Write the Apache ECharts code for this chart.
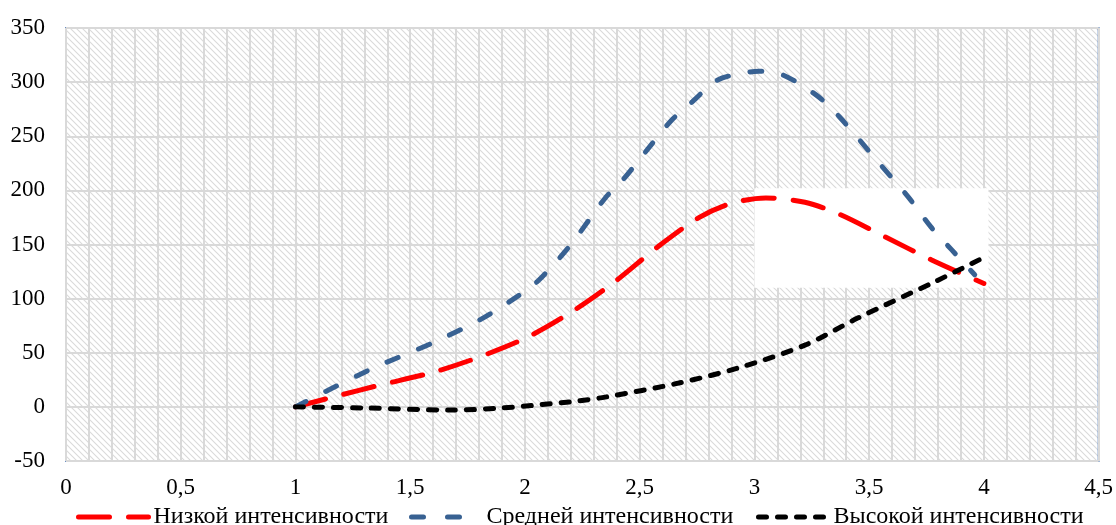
<!DOCTYPE html>
<html>
<head>
<meta charset="utf-8">
<script src="https://cdn.jsdelivr.net/npm/echarts@6/dist/echarts.min.js"></script>
<style>
  html, body { margin: 0; padding: 0; background: #fff; }
  #chart { width: 1116px; height: 525px; }
</style>
</head>
<body>
<div id="chart"></div>
<script>
// Series names
const seriesNames = ['Низкой интенсивности', 'Средней интенсивности', 'Высокой интенсивности'];

// Sample points [x, y] for each curve
const lowValues = [
  [1, 0], [1.18, 10], [1.365, 20], [1.6, 32], [1.8, 46], [2.017, 65], [2.22, 90],
  [2.4, 117], [2.58, 148], [2.76, 175], [2.9, 188], [3.05, 193], [3.22, 189],
  [3.37, 178], [3.57, 157], [3.77, 136], [4, 114]
];
const midValues = [
  [1, 0], [1.32, 34], [1.596, 59], [1.8, 80], [1.974, 103], [2.06, 117], [2.2, 150],
  [2.35, 193], [2.42, 208], [2.55, 242], [2.64, 265], [2.73, 282], [2.84, 302],
  [2.97, 309], [3.02, 310], [3.12, 307], [3.27, 288], [3.37, 268], [3.54, 226],
  [3.67, 194], [3.77, 166], [3.86, 145], [3.96, 122]
];
const highValues = [
  [1, 0], [1.3, -1], [1.68, -3], [1.9, -1], [2.07, 2], [2.21, 5], [2.35, 9],
  [2.67, 22], [2.93, 36], [3.22, 57], [3.45, 82], [3.79, 116], [4, 138]
];

// Axis ranges
const xRange = [0, 4.5, 0.5];
const yRange = [-50, 350, 50];

// Line colours and dash patterns (plot lines, legend swatches)
const lineColors = ['#ff0000', '#386192', '#000000'];
const dashes = [[31, 19], [12, 22], [8, 11]];
const legendDashes = [[31, 19], [12, 24], [8, 11]];

// Diagonal hatch used as the plot-area fill
function makeHatch() {
  const s = 6;
  const c = document.createElement('canvas');
  c.width = s; c.height = s;
  const g = c.getContext('2d');
  g.fillStyle = '#ffffff';
  g.fillRect(0, 0, s, s);
  g.strokeStyle = '#dadada';
  g.lineWidth = 1.1;
  g.beginPath();
  g.moveTo(-1, -1); g.lineTo(s + 1, s + 1);
  g.moveTo(-1, s - 1); g.lineTo(1, s + 1);
  g.moveTo(s - 1, -1); g.lineTo(s + 1, 1);
  g.stroke();
  return c;
}

const serif = 'Liberation Serif, Times New Roman, serif';
const commaFmt = v => String(v).replace('.', ',');

const chart = echarts.init(document.getElementById('chart'), null, { renderer: 'canvas' });

function legendFor(i, left) {
  return {
    top: 500,
    left: left,
    data: [seriesNames[i]],
    itemWidth: 70,
    itemHeight: 14,
    itemGap: 5,
    itemStyle: { opacity: 0 },
    lineStyle: { color: lineColors[i], width: 5, type: legendDashes[i], cap: 'round' },
    textStyle: { fontFamily: serif, fontSize: 24, color: '#000' },
    selectedMode: false
  };
}

function lineSeries(i, data, z) {
  return {
    name: seriesNames[i],
    type: 'line',
    data: data,
    smooth: 0.3,
    symbol: 'none',
    z: z,
    color: lineColors[i],
    lineStyle: { color: lineColors[i], width: 5, type: dashes[i], cap: 'round' }
  };
}

chart.setOption({
  animation: false,
  backgroundColor: '#fff',
  grid: {
    left: 66, right: 15, top: 28, bottom: 64,
    show: true,
    backgroundColor: { image: makeHatch(), repeat: 'repeat' },
    borderColor: '#6a8fc4',
    borderWidth: 2
  },
  legend: [legendFor(0, 71), legendFor(1, 404), legendFor(2, 751)],
  xAxis: {
    type: 'value',
    min: xRange[0], max: xRange[1], interval: xRange[2],
    axisLine: { show: true, onZero: true, lineStyle: { color: '#d9d9d9', width: 2 } },
    axisTick: { show: false },
    minorTick: { show: false, splitNumber: 5 },
    axisLabel: {
      margin: 15, fontFamily: serif, fontSize: 23, color: '#000',
      showMinLabel: true, showMaxLabel: true,
      formatter: commaFmt
    },
    splitLine: { show: true, lineStyle: { color: '#d9d9d9', width: 2 } },
    minorSplitLine: { show: true, lineStyle: { color: '#d9d9d9', width: 2 } }
  },
  yAxis: {
    type: 'value',
    min: yRange[0], max: yRange[1], interval: yRange[2],
    axisLine: { show: false },
    axisTick: { show: false },
    axisLabel: { margin: 21, fontFamily: serif, fontSize: 23, color: '#000', formatter: commaFmt },
    splitLine: { show: true, lineStyle: { color: '#d9d9d9', width: 2 } }
  },
  series: [
    {
      // blank panel behind the curves
      name: '_panel',
      type: 'line',
      data: [],
      z: 1,
      silent: true,
      markArea: {
        silent: true,
        itemStyle: { color: '#ffffff', opacity: 1 },
        data: [[{ coord: [3.0, 202] }, { coord: [4.02, 110] }]]
      }
    },
    lineSeries(0, lowValues, 3),
    lineSeries(1, midValues, 3),
    lineSeries(2, highValues, 4)
  ]
});
</script>
</body>
</html>
